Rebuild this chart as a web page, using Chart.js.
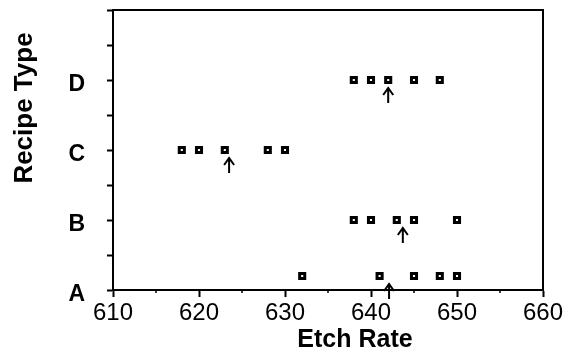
<!DOCTYPE html>
<html>
<head>
<meta charset="utf-8">
<script src="https://cdn.jsdelivr.net/npm/chart.js@4/dist/chart.umd.min.js"></script>
<style>
    html, body { margin: 0; padding: 0; background: #fff; }
    #wrap { width: 572px; height: 354px; }
</style>
</head>
<body>
<div id="wrap"><canvas id="myChart"></canvas></div>
<script>
// data
const recipes = ['A', 'B', 'C', 'D'];
const rowLevel = [1.2, 2, 3, 4];          // where each recipe's dots sit on the y scale
const rateA = [632, 641, 645, 648, 650];
const rateB = [638, 640, 643, 645, 650];
const rateC = [618, 620, 623, 628, 630];
const rateD = [638, 640, 642, 645, 648];
const arrowAt = [642.1, 643.7, 623.5, 642.0];  // arrow marks under each row
const xMin = 610, xMax = 660, xStep = 5;
const yMin = 1, yMax = 5, yStep = 0.5;

const FONT = "'Liberation Sans', Arial, sans-serif";
const rates = [rateA, rateB, rateC, rateD];

const points = [];
rates.forEach((list, i) => {
    list.forEach(v => points.push({ x: v, y: rowLevel[i] }));
});

// arrows, box, minor ticks and axis titles
const extras = {
    id: 'extras',
    afterDraw(chart) {
        const ctx = chart.ctx;
        const xs = chart.scales.x, ys = chart.scales.y;
        const area = chart.chartArea;
        ctx.save();
        ctx.strokeStyle = '#000';
        ctx.lineWidth = 2;

        // top and right frame
        ctx.beginPath();
        ctx.moveTo(area.left, area.top);
        ctx.lineTo(area.right, area.top);
        ctx.lineTo(area.right, area.bottom);
        ctx.stroke();

        // short minor ticks on x
        ctx.lineWidth = 1.5;
        for (let v = xMin + xStep; v < xMax; v += 2 * xStep) {
            const px = xs.getPixelForValue(v);
            ctx.beginPath();
            ctx.moveTo(px, area.bottom);
            ctx.lineTo(px, area.bottom + 3);
            ctx.stroke();
        }

        // arrows
        ctx.lineWidth = 2;
        arrowAt.forEach((v, i) => {
            const px = xs.getPixelForValue(v);
            const tip = ys.getPixelForValue(rowLevel[i]) + 8;
            ctx.beginPath();
            ctx.moveTo(px, tip);
            ctx.lineTo(px, tip + 15);
            ctx.moveTo(px - 5, tip + 7);
            ctx.lineTo(px, tip);
            ctx.lineTo(px + 5, tip + 7);
            ctx.stroke();
        });

        // axis titles
        ctx.fillStyle = '#000';
        ctx.textAlign = 'center';
        ctx.textBaseline = 'alphabetic';
        ctx.font = 'bold 25px ' + FONT;
        ctx.fillText('Etch Rate', 355, 347);
        ctx.font = 'bold 26px ' + FONT;
        ctx.translate(32, 108);
        ctx.rotate(-Math.PI / 2);
        ctx.fillText('Recipe Type', 0, 0);
        ctx.restore();
    }
};

new Chart(document.getElementById('myChart'), {
    type: 'scatter',
    data: {
        datasets: [{
            data: points,
            pointStyle: 'rect',
            pointRadius: 3.6,
            pointBorderWidth: 3,
            borderColor: '#000',
            backgroundColor: '#fff'
        }]
    },
    plugins: [extras],
    options: {
        responsive: true,
        maintainAspectRatio: false,
        animation: false,
        events: [],
        layout: { padding: { top: 10, right: 29, left: 0, bottom: 0 } },
        plugins: {
            legend: { display: false },
            tooltip: { enabled: false }
        },
        scales: {
            x: {
                type: 'linear',
                min: xMin,
                max: xMax,
                afterFit: s => { s.height = 64; s.paddingLeft = 0; s.paddingRight = 0; },
                border: { color: '#000', width: 2 },
                grid: {
                    drawOnChartArea: false,
                    tickLength: 7,
                    tickWidth: 2,
                    tickColor: c => (c.tick && c.tick.value % 10 === 0) ? '#000' : 'rgba(0,0,0,0)'
                },
                ticks: {
                    stepSize: xStep,
                    maxRotation: 0,
                    autoSkip: false,
                    padding: 2,
                    color: '#000',
                    font: { family: FONT, size: 24 },
                    callback: v => v % 10 === 0 ? v : ''
                }
            },
            y: {
                type: 'linear',
                min: yMin,
                max: yMax,
                afterFit: s => { s.width = 113; s.paddingTop = 0; s.paddingBottom = 0; },
                border: { color: '#000', width: 2 },
                grid: {
                    drawOnChartArea: false,
                    tickLength: 6,
                    tickWidth: 2,
                    tickColor: '#000'
                },
                ticks: {
                    stepSize: yStep,
                    autoSkip: false,
                    padding: 22,
                    labelOffset: 5,
                    color: '#000',
                    font: { family: FONT, size: 23, weight: 'bold' },
                    callback: v => Number.isInteger(v) && v <= recipes.length ? recipes[v - 1] : ''
                }
            }
        }
    }
});
</script>
</body>
</html>
